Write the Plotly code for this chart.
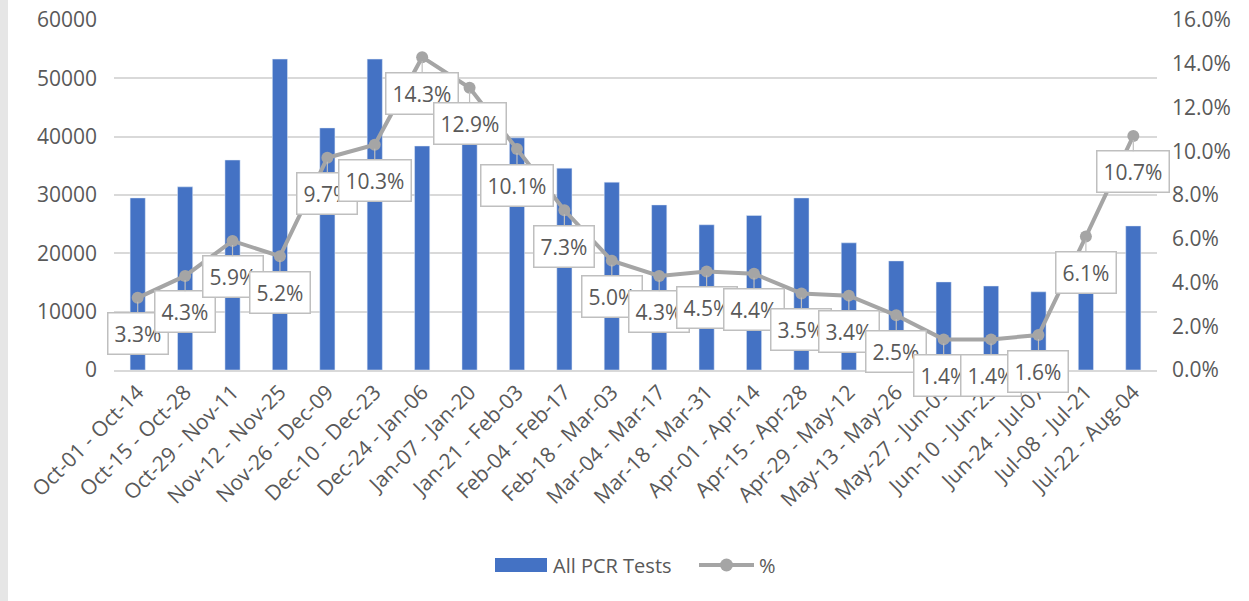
import plotly.graph_objects as go

categories = ["Oct-01 - Oct-14", "Oct-15 - Oct-28", "Oct-29 - Nov-11", "Nov-12 - Nov-25",
              "Nov-26 - Dec-09", "Dec-10 - Dec-23", "Dec-24 - Jan-06", "Jan-07 - Jan-20",
              "Jan-21 - Feb-03", "Feb-04 - Feb-17", "Feb-18 - Mar-03", "Mar-04 - Mar-17",
              "Mar-18 - Mar-31", "Apr-01 - Apr-14", "Apr-15 - Apr-28", "Apr-29 - May-12",
              "May-13 - May-26", "May-27 - Jun-09", "Jun-10 - Jun-23", "Jun-24 - Jul-07",
              "Jul-08 - Jul-21", "Jul-22 - Aug-04"]
pcr_tests = [29500, 31400, 36000, 53300, 41500, 53300, 38400, 39800, 39800, 34600,
             32200, 28300, 24900, 26500, 29500, 21800, 18700, 15100, 14400, 13400,
             15000, 24700]
pct = [3.3, 4.3, 5.9, 5.2, 9.7, 10.3, 14.3, 12.9, 10.1, 7.3, 5.0, 4.3, 4.5, 4.4,
       3.5, 3.4, 2.5, 1.4, 1.4, 1.6, 6.1, 10.7]
pct_frac = [p / 100 for p in pct]

text_color = "#595959"
font_family = "Open Sans, Liberation Sans, sans-serif"
bar_color = "#4472C4"
line_color = "#A5A5A5"

# plot area in pixels
L, R, T, B = 114, 92, 20, 231
W, H = 1249 - L - R, 601 - T - B


def px(x):
    return (x - L) / W


def py(y):
    return (601 - B - y) / H


fig = go.Figure()
fig.add_trace(go.Bar(x=categories, y=pcr_tests, name="All PCR Tests",
                     marker=dict(color=bar_color), yaxis="y", showlegend=False))
fig.add_trace(go.Scatter(x=categories, y=pct_frac, name="%", mode="lines+markers",
                         line=dict(color=line_color, width=4),
                         marker=dict(color=line_color, size=12), yaxis="y2",
                         showlegend=False))

annotations = []
for c, v, p in zip(categories, pct_frac, pct):
    annotations.append(dict(
        x=c, y=v, xref="x", yref="y2", text=f"{p:.1f}%",
        showarrow=True, arrowhead=0, arrowwidth=1.2, arrowcolor="#BFBFBF",
        ax=0, ay=36, standoff=4,
        bgcolor="white", bordercolor="#BFBFBF", borderwidth=1.5, borderpad=6,
        font=dict(size=21, color=text_color, family=font_family)))

# custom legend (wide bar swatch like the reference)
annotations.append(dict(x=px(551), y=py(565), xref="paper", yref="paper",
                        text="All PCR Tests", showarrow=False, xanchor="left",
                        yanchor="middle",
                        font=dict(size=20, color=text_color, family=font_family)))
annotations.append(dict(x=px(757), y=py(565), xref="paper", yref="paper",
                        text="%", showarrow=False, xanchor="left", yanchor="middle",
                        font=dict(size=20, color=text_color, family=font_family)))

shapes = [
    dict(type="rect", xref="paper", yref="paper",
         x0=px(0), x1=px(8), y0=py(601), y1=py(0),
         fillcolor="#E6E6E6", line=dict(width=0), layer="below"),
    dict(type="rect", xref="paper", yref="paper",
         x0=px(495), x1=px(547), y0=py(572), y1=py(558),
         fillcolor=bar_color, line=dict(width=0)),
    dict(type="line", xref="paper", yref="paper",
         x0=px(699), x1=px(754), y0=py(565), y1=py(565),
         line=dict(color=line_color, width=4)),
    dict(type="circle", xref="paper", yref="paper",
         x0=px(720), x1=px(733), y0=py(571.5), y1=py(558.5),
         fillcolor=line_color, line=dict(width=0)),
]

fig.update_layout(
    width=1249, height=601,
    margin=dict(l=L, r=R, t=T, b=B, autoexpand=False),
    paper_bgcolor="white", plot_bgcolor="white",
    font=dict(family=font_family, color=text_color, size=20),
    bargap=0.68,
    showlegend=False,
    xaxis=dict(tickangle=-45, tickfont=dict(size=21, color=text_color),
               range=[-0.5, len(categories) - 0.5], autorange=False,
               showgrid=False, showline=True, linecolor="#D9D9D9", linewidth=1.5,
               ticks="", automargin=False),
    yaxis=dict(range=[0, 60000], dtick=10000, tickformat="d", showgrid=True,
               gridcolor="#D9D9D9", gridwidth=1.5, zeroline=False,
               tickfont=dict(size=21, color=text_color), automargin=False,
               ticklabelstandoff=16),
    yaxis2=dict(range=[0, 0.16], dtick=0.02, tickformat=".1%", overlaying="y",
                side="right", showgrid=False, zeroline=False, automargin=False,
                tickfont=dict(size=21, color=text_color), ticklabelstandoff=14),
    annotations=annotations,
    shapes=shapes,
)

fig.write_html("out.html",
               config={"displayModeBar": False},
               post_script="document.body.style.margin='0';"
                           "document.body.style.overflow='hidden';")
